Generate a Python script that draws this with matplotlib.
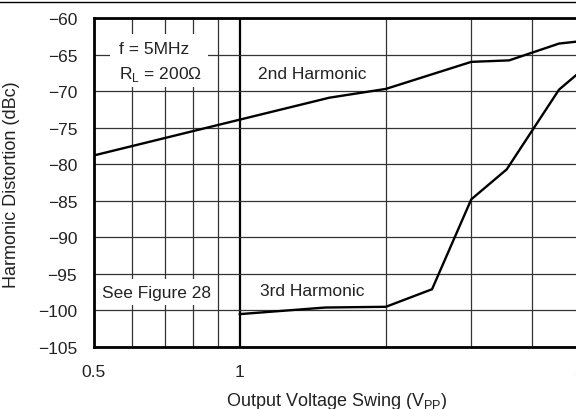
import matplotlib
matplotlib.use("Agg")
import matplotlib.pyplot as plt
from matplotlib.lines import Line2D
from matplotlib.patches import Rectangle

plt.rcParams['font.family'] = ['Liberation Sans', 'DejaVu Sans']
plt.rcParams['mathtext.fontset'] = 'custom'
plt.rcParams['mathtext.rm'] = 'Liberation Sans'

# curva del 2o armonico
h2_x = [0.5, 1.0, 1.53, 2.0, 3.0, 3.59, 4.55, 5.0]
h2_y = [-78.8, -73.9, -70.9, -69.7, -66.0, -65.8, -63.5, -63.2]

# curva del 3er armonico
h3_x = [1.0, 1.5, 2.0, 2.49, 3.0, 3.55, 4.55, 5.0]
h3_y = [-100.5, -99.6, -99.5, -97.1, -84.8, -80.7, -69.8, -67.5]

x_major = [0.5, 1, 5]
x_major_labels = ['0.5', '1', '5']
x_minor = [0.6, 0.7, 0.8, 0.9, 2, 3, 4]
y_ticks = list(range(-105, -59, 5))

txt_col = '#222222'
fs = 12.5

fig = plt.figure(figsize=(5.76, 4.10), dpi=100)
ax = fig.add_axes([0.163, 0.1512, 0.842, 0.8025])

ax.plot(h2_x, h2_y, color='black', linewidth=1.7, zorder=3, solid_joinstyle='miter')
ax.plot(h3_x, h3_y, color='black', linewidth=1.7, zorder=3, solid_joinstyle='miter')

ax.set_xscale('log')
ax.set_xlim(0.5, 5)
ax.set_ylim(-105, -60)
ax.set_xticks(x_major)
ax.set_xticklabels(x_major_labels)
ax.set_xticks(x_minor, minor=True)
ax.set_xticklabels([], minor=True)
ax.set_yticks(y_ticks)
ax.set_yticklabels([str(v).replace('-', '\u2212') for v in y_ticks])

ax.grid(True, which='major', axis='x', color='black', linewidth=1.6, zorder=1)
ax.grid(True, which='minor', axis='x', color='#333333', linewidth=0.9, zorder=1)
ax.grid(True, which='major', axis='y', color='#333333', linewidth=0.9, zorder=1)
ax.set_axisbelow(True)

ax.tick_params(axis='both', which='both', length=0, labelsize=fs, colors=txt_col)
ax.tick_params(axis='y', pad=12)
ax.tick_params(axis='x', pad=12)
for s in ax.spines.values():
    s.set_linewidth(2)
    s.set_color('black')

ax.set_xlabel('Output Voltage Swing (V$_\\mathrm{PP}$)', fontsize=13, color=txt_col)
ax.xaxis.set_label_coords(0.5, -0.13)
ax.set_ylabel('Harmonic Distortion (dBc)', fontsize=13, color=txt_col)
ax.yaxis.set_label_coords(-0.153, 0.495)

# cuadros blancos detras de las notas
ax.add_patch(Rectangle((0.033, 0.79), 0.202, 0.161, transform=ax.transAxes,
                       facecolor='white', edgecolor='none', zorder=2))
ax.add_patch(Rectangle((0.004, 0.128), 0.248, 0.079, transform=ax.transAxes,
                       facecolor='white', edgecolor='none', zorder=2))

ax.text(0.0515, 0.906, 'f = 5MHz', transform=ax.transAxes, fontsize=fs,
        color=txt_col, va='center', ha='left', zorder=4)
ax.text(0.0515, 0.83, 'R$_\\mathrm{L}$ = 200\u03a9', transform=ax.transAxes, fontsize=fs,
        color=txt_col, va='center', ha='left', zorder=4)
ax.text(0.338, 0.83, '2nd Harmonic', transform=ax.transAxes, fontsize=fs,
        color=txt_col, va='center', ha='left', zorder=4)
ax.text(0.0165, 0.165, 'See Figure 28', transform=ax.transAxes, fontsize=fs,
        color=txt_col, va='center', ha='left', zorder=4)
ax.text(0.342, 0.173, '3rd Harmonic', transform=ax.transAxes, fontsize=fs,
        color=txt_col, va='center', ha='left', zorder=4)

fig.add_artist(Line2D([0, 1], [0.9915, 0.9915], color='black', linewidth=1,
                      transform=fig.transFigure))

fig.savefig('out.png', dpi=100)
